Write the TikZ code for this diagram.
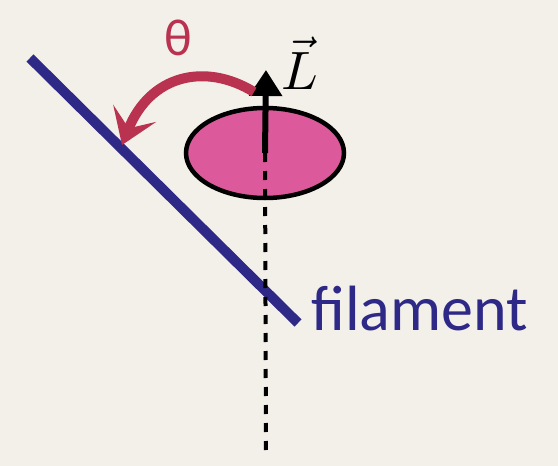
\documentclass[tikz,border=0pt]{standalone}
\usepackage{fontspec}
\setmainfont{Carlito}
\usetikzlibrary{arrows.meta, shapes.geometric}
\definecolor{paper}{HTML}{F3F0EA}
\definecolor{filblue}{HTML}{2E2887}
\definecolor{diskpink}{HTML}{DC5A9B}
\definecolor{thetared}{HTML}{B9324F}

\begin{document}
\begin{tikzpicture}[x=1pt, y=-1pt,
  disk/.style={ellipse, draw=black, fill=diskpink, line width=4.5pt,
               minimum width=158pt, minimum height=90pt, inner sep=0pt},
  filament/.style={line width=10pt, filblue},
  axis/.style={line width=4pt, black, dash pattern=on 9pt off 9pt},
  spin/.style={line width=6pt, black, -{Triangle[length=26pt, width=32pt]}},
  rotarrow/.style={line width=10pt, thetared,
                   -{Stealth[length=34pt, width=46pt, inset=16pt]}},
  flabel/.style={font=\fontsize{64}{70}\selectfont, text=filblue, inner sep=0pt},
  thlabel/.style={font=\fontsize{52}{60}\selectfont, text=thetared, inner sep=0pt},
  Llabel/.style={inner sep=0pt}
]
  % paper background, fixes the page size
  \fill[paper] (0,0) rectangle (558,466);
  \useasboundingbox (0,0) rectangle (558,466);

  % filament
  \coordinate (ftop) at (30,58);
  \coordinate (fbot) at (298,323);
  \draw[filament] (ftop) -- (fbot);
  \node[flabel, anchor=base west] (flab) at (311,330) {filament};

  % dotted rotation axis through the disk
  \coordinate (axbot) at (266,455);
  \node[disk] (disk) at (265,153) {};
  \draw[axis] (disk.center) -- (axbot);

  % angular momentum
  \coordinate (Ltip) at (266,70);
  \draw[spin] (disk.center) -- (Ltip);
  \node[Llabel, anchor=base] (Lvec) at (300,89) {\scalebox{5.4}{$\vec{L}$}};

  % tilt angle
  \coordinate (rstart) at (254,92);
  \coordinate (rend) at (122,145);
  \draw[rotarrow] (rstart) .. controls (205,62) and (150,75) .. (rend);
  \node[thlabel] (theta) at (178,38) {θ};
\end{tikzpicture}
\end{document}
